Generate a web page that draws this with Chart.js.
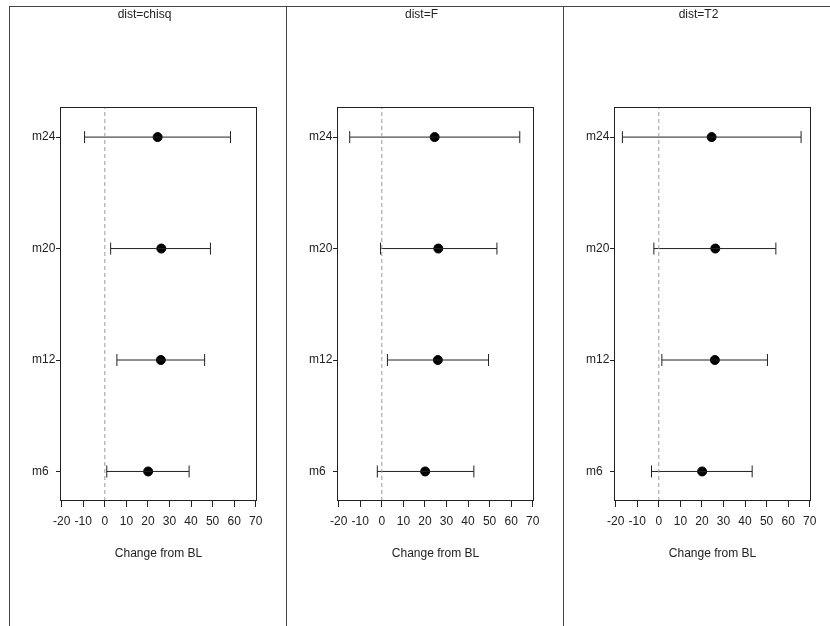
<!DOCTYPE html>
<html>
<head>
<meta charset="utf-8">
<script src="https://cdn.jsdelivr.net/npm/chart.js"></script>
<style>
  body { margin: 0; background: #fff; }
  #wrap { position: relative; width: 830px; height: 626px; overflow: hidden; }
  .panel { position: absolute; top: 6px; width: 276px; height: 640px; border-left: 1px solid #444; border-top: 1px solid #444; }
  .panel canvas { position: absolute; left: 0; top: 0; }
</style>
</head>
<body>
<div id="wrap"></div>
<script>
// visits on the y axis, bottom to top
const categories = ["m6", "m12", "m20", "m24"];
const panels = ["dist=chisq", "dist=F", "dist=T2"];

// change from baseline estimate (same in every panel)
const estimate = [20.1, 26.0, 26.2, 24.5];

// lower / upper limits per panel
const chisqLow = [0.9, 5.6, 2.7, -9.4];
const chisqHigh = [39.1, 46.3, 49.0, 58.3];
const fLow = [-2.1, 2.6, -0.6, -14.9];
const fHigh = [42.7, 49.5, 53.4, 64.0];
const t2Low = [-3.4, 1.4, -2.3, -16.9];
const t2High = [43.3, 50.4, 54.3, 66.0];

const xTicks = [-20, -10, 0, 10, 20, 30, 40, 50, 60, 70];
const xMin = -20.8;
const xMax = 70.6;
const yMin = -0.265;
const yMax = 3.27;
const refValue = 0;
const xTitle = "Change from BL";

const lows = [chisqLow, fLow, t2Low];
const highs = [chisqHigh, fHigh, t2High];

const font = { family: "'Liberation Sans', Arial, sans-serif", size: 12, weight: "normal" };
const ink = "#222";

// box around the plot area
const frame = {
  id: "frame",
  afterDatasetsDraw(chart) {
    const { ctx, chartArea: a } = chart;
    ctx.save();
    ctx.strokeStyle = ink;
    ctx.lineWidth = 1;
    ctx.strokeRect(a.left + 0.5, a.top + 0.5, a.right - a.left - 1, a.bottom - a.top - 1);
    ctx.restore();
  },
};

const wrap = document.getElementById("wrap");

panels.forEach((name, p) => {
  const div = document.createElement("div");
  div.className = "panel";
  div.style.left = 9 + 277 * p + "px";
  const canvas = document.createElement("canvas");
  canvas.width = 276;
  canvas.height = 619;
  div.appendChild(canvas);
  wrap.appendChild(div);

  const datasets = [];

  // dashed reference line at 0
  datasets.push({
    type: "line",
    data: [{ x: refValue, y: yMin }, { x: refValue, y: yMax }],
    borderColor: "#9a9a9a",
    borderWidth: 1,
    borderDash: [4, 3],
    pointRadius: 0,
  });

  // error bars with caps
  categories.forEach((c, i) => {
    datasets.push({
      type: "line",
      data: [{ x: lows[p][i], y: i }, { x: highs[p][i], y: i }],
      borderColor: ink,
      borderWidth: 1,
      pointStyle: "line",
      rotation: 90,
      pointRadius: 6,
      pointBorderColor: ink,
      pointBorderWidth: 1,
    });
  });

  // estimates
  datasets.push({
    type: "scatter",
    data: estimate.map((v, i) => ({ x: v, y: i })),
    backgroundColor: "#000",
    borderColor: "#000",
    pointRadius: 4.5,
  });

  new Chart(canvas, {
    data: { datasets },
    options: {
      responsive: false,
      animation: false,
      events: [],
      layout: { padding: { left: 22, right: 29, top: 0, bottom: 64.8 } },
      plugins: {
        legend: { display: false },
        tooltip: { enabled: false },
        title: {
          display: true,
          text: name,
          color: ink,
          font: font,
          padding: { top: 0, bottom: 85.6 },
        },
      },
      scales: {
        x: {
          type: "linear",
          min: xMin,
          max: xMax,
          afterBuildTicks: (s) => { s.ticks = xTicks.map((v) => ({ value: v })); },
          grid: { drawOnChartArea: false, drawTicks: true, tickLength: 6, color: ink },
          border: { display: false },
          ticks: { color: ink, font: font, padding: 7, autoSkip: false, maxRotation: 0 },
          title: { display: true, text: xTitle, color: ink, font: font, padding: { top: 11.4, bottom: 0 } },
        },
        y: {
          type: "linear",
          min: yMin,
          max: yMax,
          afterBuildTicks: (s) => { s.ticks = categories.map((c, i) => ({ value: i })); },
          afterFit: (s) => { s.width = 28; },
          grid: { drawOnChartArea: false, drawTicks: true, tickLength: 4, color: ink },
          border: { display: false },
          ticks: {
            color: ink,
            font: font,
            padding: 0,
            crossAlign: "far",
            callback: (v) => categories[v],
          },
        },
      },
    },
    plugins: [frame],
  });
});
</script>
</body>
</html>
